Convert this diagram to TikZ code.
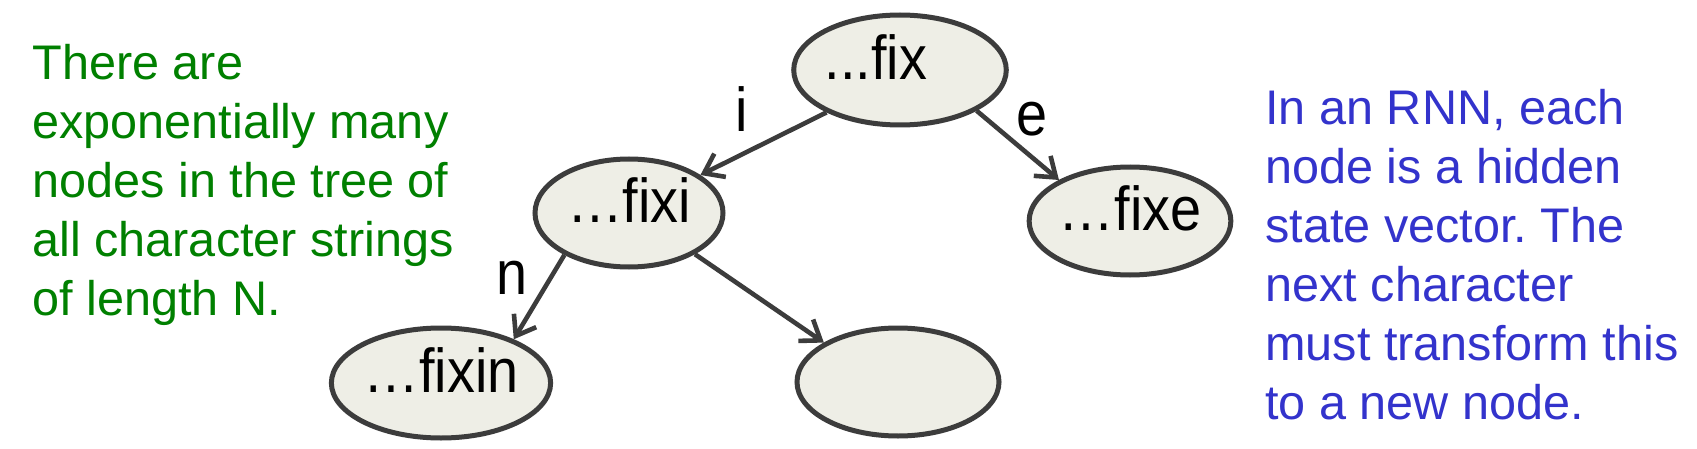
\documentclass[tikz,border=0pt]{standalone}
\usepackage{fontspec}
\setmainfont{Liberation Sans}
\newfontfamily\nodefont{Liberation Sans}[FakeStretch=0.9]
\usetikzlibrary{arrows.meta,shapes.geometric}
\frenchspacing
\definecolor{nodefill}{RGB}{238,238,230}
\definecolor{nodeline}{RGB}{60,60,60}
\definecolor{txtgreen}{RGB}{0,128,0}
\definecolor{txtblue}{RGB}{51,51,204}
\tikzset{
  tnode/.style={ellipse, draw=nodeline, fill=nodefill, line width=2.5pt, inner sep=0pt,
    text height=9.5pt, text depth=0pt, font=\nodefont\fontsize{31}{31}\selectfont},
  edge/.style={draw=nodeline, line width=2.3pt, -{Straight Barb[length=9pt,width=13pt]}},
  elabel/.style={inner sep=0pt, anchor=base, font=\nodefont\fontsize{31}{31}\selectfont},
  sidetext/.style={inner sep=0pt, anchor=north west, align=left, font=\fontsize{24.3}{29.5}\selectfont}
}
\begin{document}
\begin{tikzpicture}[x=0.5pt,y=-0.5pt]
\useasboundingbox (0,0) rectangle (1697,449);
\fill[white] (0,0) rectangle (1697,449);
\node[tnode, minimum width=97pt, minimum height=55pt] (fix) at (900,70) {...fix\hspace*{24pt}};
\node[tnode, minimum width=94pt, minimum height=54pt] (fixi) at (629,213) {…fixi};
\node[tnode, minimum width=98pt, minimum height=54pt] (fixe) at (1130,221) {…fixe};
\node[tnode, minimum width=91pt, minimum height=55pt] (fixin) at (441,383) {…fixin};
\node[tnode, minimum width=101pt, minimum height=54pt] (empty) at (898,382) {};
\draw[edge] (fix.210) -- (fixi.28);
\draw[edge] (fix.-28) -- (fixe.150);
\draw[edge] (fixi.213) -- (fixin.31);
\draw[edge] (fixi.328) -- (empty.152);
\node[elabel] (li) at (742,132) {i};
\node[elabel] (le) at (1032,135) {e};
\node[elabel] (ln) at (512,294) {n};
\node[sidetext, text=txtgreen] (left) at (32,44) {There are\\exponentially many\\nodes in the tree of\\all character strings\\of length N.};
\node[sidetext, text=txtblue] (right) at (1265,89) {In an RNN, each\\node is a hidden\\state vector. The\\next character\\must transform this\\to a new node.};
\end{tikzpicture}
\end{document}
